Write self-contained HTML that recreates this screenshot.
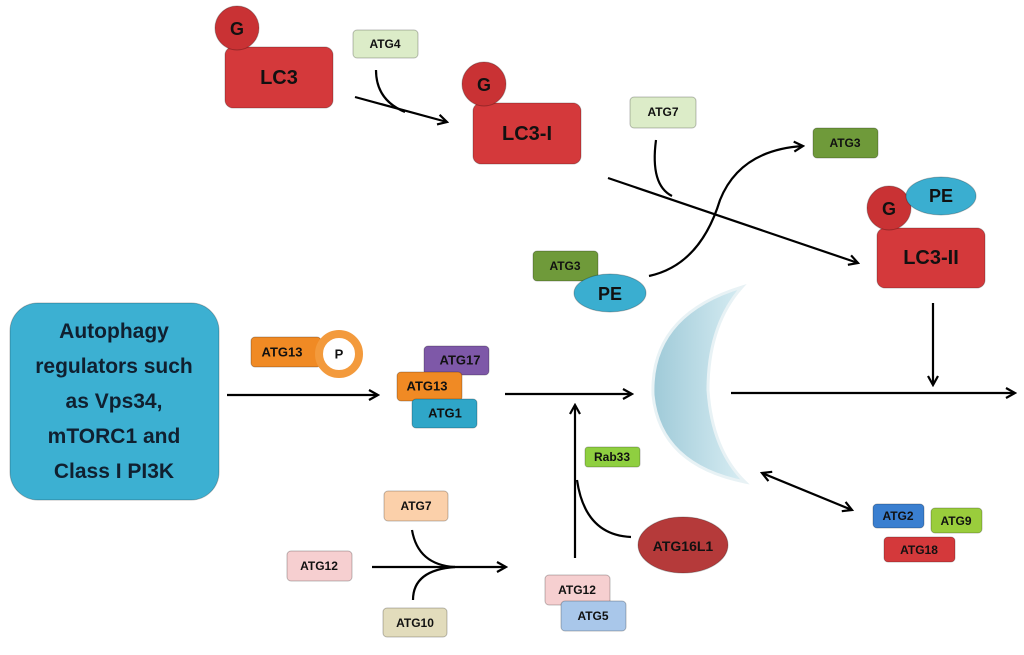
<!DOCTYPE html>
<html><head><meta charset="utf-8"><style>
body{margin:0;background:#fff;}
svg text{font-family:"Liberation Sans",sans-serif;font-weight:bold;text-anchor:middle;dominant-baseline:central;fill:#111;}
</style></head><body>
<svg width="1024" height="650" viewBox="0 0 1024 650" xmlns="http://www.w3.org/2000/svg">
<defs>
<marker id="a" markerWidth="12" markerHeight="12" refX="10" refY="6" orient="auto" markerUnits="userSpaceOnUse"><path d="M1,1 L10,6 L1,11" fill="none" stroke="#000" stroke-width="2.2"/></marker>
<marker id="b" markerWidth="12" markerHeight="12" refX="2" refY="6" orient="auto" markerUnits="userSpaceOnUse"><path d="M11,1 L2,6 L11,11" fill="none" stroke="#000" stroke-width="2.2"/></marker>
<linearGradient id="cr" x1="0" x2="1"><stop offset="0" stop-color="#9fcad8"/><stop offset="1" stop-color="#d8edf3"/></linearGradient>
</defs>
<g stroke="#000" stroke-width="2.2" fill="none">
<path d="M355,97 L447,122" marker-end="url(#a)"/>
<path d="M376,70 Q376,100 405,112"/>
<path d="M608,178 L858,263" marker-end="url(#a)"/>
<path d="M656,140 Q650,185 672,196"/>
<path d="M649,276 Q700,265 720,200 Q740,150 803,146" marker-end="url(#a)"/>
<path d="M933,303 L933,385" marker-end="url(#a)"/>
<path d="M731,393 L1015,393" marker-end="url(#a)"/>
<path d="M227,395 L378,395" marker-end="url(#a)"/>
<path d="M505,394 L632,394" marker-end="url(#a)"/>
<path d="M575,558 L575,405" marker-end="url(#a)"/>
<path d="M631,537 Q585,535 577,480"/>
<path d="M762,473 L852,510" marker-start="url(#b)" marker-end="url(#a)"/>
<path d="M372,567 L506,567" marker-end="url(#a)"/>
<path d="M412,530 Q418,565 455,567"/>
<path d="M413,600 Q413,570 455,567"/>
</g>
<path d="M742,287 Q650,315 653,395 Q660,465 745,482 Q712,450 708,390 Q708,325 742,287 Z" fill="url(#cr)" stroke="#e8f2f5" stroke-width="3"/>
<g stroke="rgba(0,0,0,0.25)" stroke-width="1">
<rect x="10" y="303" width="209" height="197" rx="28" fill="#3cb0d2"/>
<rect x="225" y="47" width="108" height="61" rx="8" fill="#d4393b"/>
<circle cx="237" cy="28" r="22" fill="#c93234"/>
<rect x="473" y="103" width="108" height="61" rx="8" fill="#d4393b"/>
<circle cx="484" cy="84" r="22" fill="#c93234"/>
<rect x="877" y="228" width="108" height="60" rx="8" fill="#d4393b"/>
<circle cx="889" cy="208" r="22" fill="#c93234"/>
<ellipse cx="941" cy="196" rx="35" ry="19" fill="#3aaed0"/>
<rect x="353" y="30" width="65" height="28" rx="4" fill="#dcecc8"/>
<rect x="630" y="97" width="66" height="31" rx="4" fill="#dcecc8"/>
<rect x="813" y="128" width="65" height="30" rx="4" fill="#6f9a3a"/>
<rect x="533" y="251" width="65" height="30" rx="4" fill="#6f9a3a"/>
<ellipse cx="610" cy="293" rx="36" ry="19" fill="#3aaed0"/>
<rect x="251" y="337" width="70" height="30" rx="4" fill="#f08a24"/>
<circle cx="339" cy="354" r="20" fill="#fff" stroke="#f39a3c" stroke-width="8"/>
<rect x="424" y="346" width="65" height="29" rx="4" fill="#7e58a8"/>
<rect x="397" y="372" width="65" height="29" rx="4" fill="#f08a24"/>
<rect x="412" y="399" width="65" height="29" rx="4" fill="#2fa6c8"/>
<rect x="585" y="447" width="55" height="20" rx="3" fill="#8fcf40"/>
<ellipse cx="683" cy="545" rx="45" ry="28" fill="#b53a3a"/>
<rect x="873" y="504" width="51" height="24" rx="4" fill="#3a7fd0"/>
<rect x="931" y="508" width="51" height="25" rx="4" fill="#9acd3c"/>
<rect x="884" y="537" width="71" height="25" rx="4" fill="#d4393b"/>
<rect x="384" y="491" width="64" height="30" rx="4" fill="#fbd0aa"/>
<rect x="287" y="551" width="65" height="30" rx="4" fill="#f6cfd0"/>
<rect x="383" y="608" width="64" height="29" rx="4" fill="#e2dcbc"/>
<rect x="545" y="575" width="65" height="30" rx="4" fill="#f6cfd0"/>
<rect x="561" y="601" width="65" height="30" rx="4" fill="#a9c7ea"/>
</g>
<text x="114" y="401" font-size="21" style="fill:#102030">
<tspan x="114" y="331">Autophagy</tspan><tspan x="114" y="366">regulators such</tspan><tspan x="114" y="401">as Vps34,</tspan><tspan x="114" y="436">mTORC1 and</tspan><tspan x="114" y="471">Class I PI3K</tspan></text>
<text x="279" y="78" font-size="20">LC3</text>
<text x="237" y="29" font-size="18">G</text>
<text x="527" y="134" font-size="20">LC3-I</text>
<text x="484" y="85" font-size="18">G</text>
<text x="931" y="258" font-size="20">LC3-II</text>
<text x="889" y="209" font-size="18">G</text>
<text x="941" y="196" font-size="18">PE</text>
<text x="385" y="44" font-size="12">ATG4</text>
<text x="663" y="112" font-size="12">ATG7</text>
<text x="845" y="143" font-size="12">ATG3</text>
<text x="565" y="266" font-size="12">ATG3</text>
<text x="610" y="294" font-size="18">PE</text>
<text x="282" y="352" font-size="13">ATG13</text>
<text x="339" y="354" font-size="13">P</text>
<text x="460" y="360" font-size="13">ATG17</text>
<text x="427" y="386" font-size="13">ATG13</text>
<text x="445" y="413" font-size="13">ATG1</text>
<text x="612" y="457" font-size="12">Rab33</text>
<text x="683" y="546" font-size="14">ATG16L1</text>
<text x="898" y="516" font-size="12">ATG2</text>
<text x="956" y="521" font-size="12">ATG9</text>
<text x="919" y="550" font-size="12">ATG18</text>
<text x="416" y="506" font-size="12">ATG7</text>
<text x="319" y="566" font-size="12">ATG12</text>
<text x="415" y="623" font-size="12">ATG10</text>
<text x="577" y="590" font-size="12">ATG12</text>
<text x="593" y="616" font-size="12">ATG5</text>
</svg>
</body></html>
